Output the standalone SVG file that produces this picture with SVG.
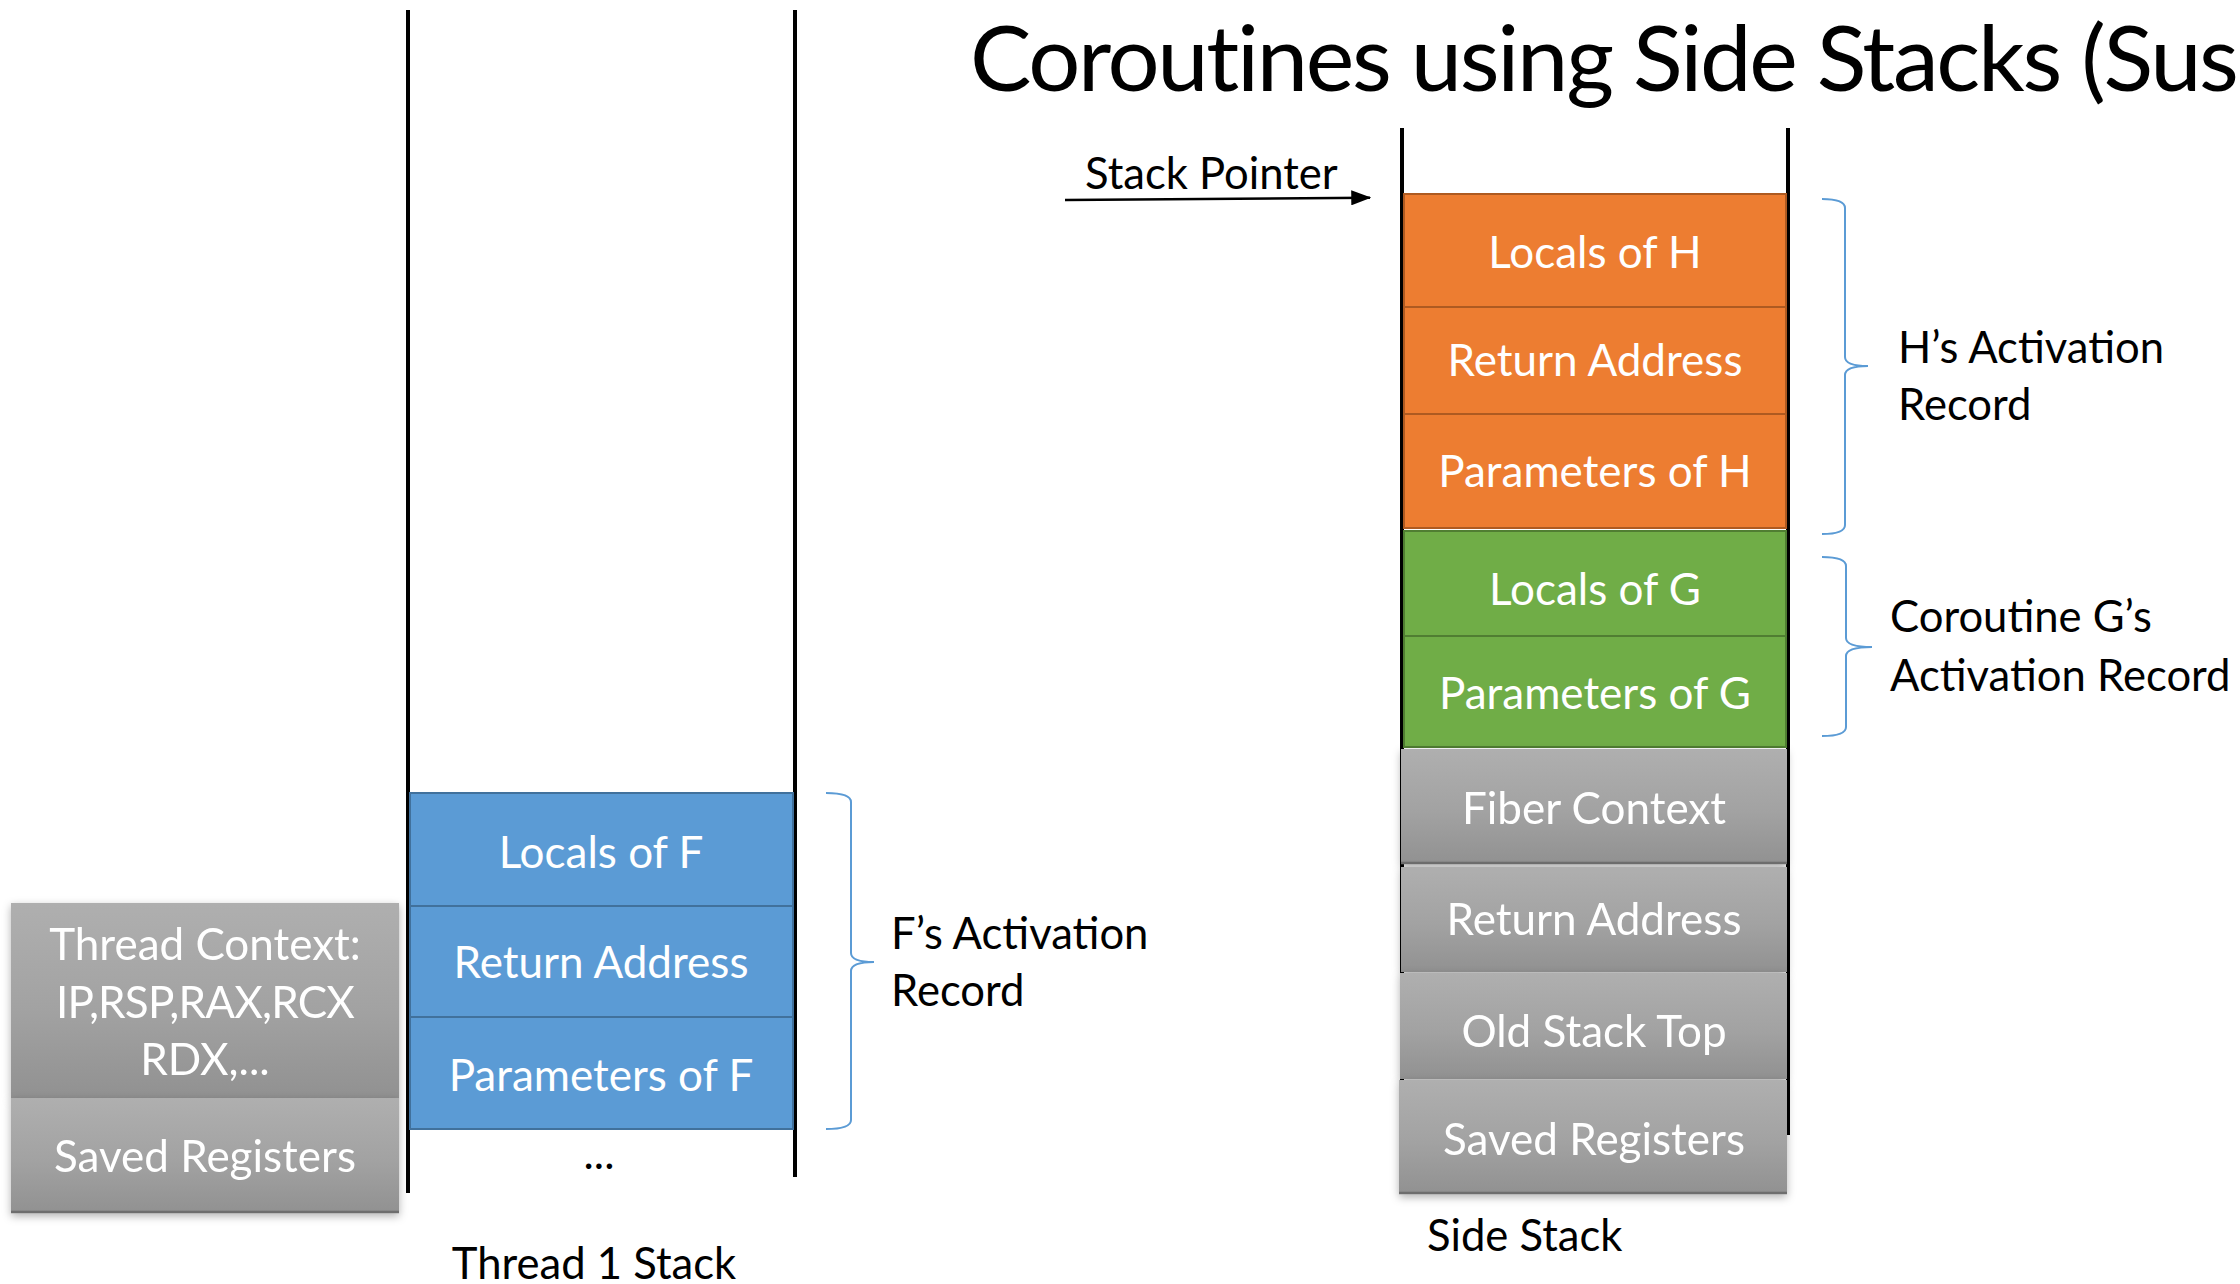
<svg xmlns="http://www.w3.org/2000/svg" width="2240" height="1284" viewBox="0 0 2240 1284">
<style>
.cell-text{font-family:Lato,"Open Sans","DejaVu Sans",sans-serif;font-size:44px;fill:#FFFFFF;text-anchor:middle}
.label{font-family:Lato,"Open Sans","DejaVu Sans",sans-serif;font-size:43.6px;fill:#000000}
.title{font-family:Lato,"Open Sans","DejaVu Sans",sans-serif;font-size:92px;letter-spacing:-2.3px;fill:#000000}
.blue{fill:#5B9BD5;stroke:#41719C;stroke-width:2}
.orange{fill:#ED7D31;stroke:#AE5A21;stroke-width:2}
.green{fill:#70AD47;stroke:#507E32;stroke-width:2}
.gray{fill:url(#grayGrad)}
.grayedge{stroke:#6E6E6E;stroke-width:2.5}
.wall{stroke:#000000;stroke-width:4;fill:none}
.brace{stroke:#5B9BD5;stroke-width:2;fill:none}
</style>
<defs>
<linearGradient id="grayGrad" x1="0" y1="0" x2="0" y2="1">
<stop offset="0" stop-color="#AFAFAF"/>
<stop offset="0.55" stop-color="#A2A2A2"/>
<stop offset="1" stop-color="#919191"/>
</linearGradient>
<filter id="shadow" x="-10%" y="-10%" width="120%" height="130%">
<feDropShadow dx="0" dy="3" stdDeviation="4" flood-color="#000000" flood-opacity="0.3"/>
</filter>
<marker id="arrow" markerWidth="8" markerHeight="6" refX="7.5" refY="3" orient="auto" markerUnits="strokeWidth">
<path d="M0,0 L8,3 L0,6 Z" fill="#000000"/>
</marker>
</defs>
<rect x="0" y="0" width="2240" height="1284" fill="#FFFFFF"/>

<g id="title">
<text class="title" x="970" y="91">Coroutines using Side Stacks (Sus</text>
</g>

<g id="thread-stack-walls">
<line class="wall" x1="408" y1="10" x2="408" y2="1193"/>
<line class="wall" x1="795" y1="10" x2="795" y2="1177"/>
</g>

<g id="locals-f"><rect class="blue" x="410" y="793" width="383" height="113"/><text class="cell-text" x="601" y="868">Locals of F</text></g>
<g id="return-f"><rect class="blue" x="410" y="906" width="383" height="111"/><text class="cell-text" x="601" y="978">Return Address</text></g>
<g id="params-f"><rect class="blue" x="410" y="1017" width="383" height="112"/><text class="cell-text" x="601" y="1091">Parameters of F</text></g>
<g id="ellipsis"><text class="label" x="599" y="1169" text-anchor="middle">...</text></g>
<g id="thread-stack-label"><text class="label" x="594" y="1279" text-anchor="middle">Thread 1 Stack</text></g>

<g id="thread-context" filter="url(#shadow)">
<rect class="gray" x="11" y="903" width="388" height="195"/>
<text class="cell-text" x="205" y="960">Thread Context:</text>
<text class="cell-text" x="205" y="1018" letter-spacing="-0.8">IP,RSP,RAX,RCX</text>
<text class="cell-text" x="205" y="1075">RDX,...</text>
</g>
<g id="saved-registers-thread" filter="url(#shadow)">
<rect class="gray" x="11" y="1098" width="388" height="115"/>
<line class="grayedge" x1="11" y1="1212" x2="399" y2="1212"/>
<text class="cell-text" x="205" y="1172">Saved Registers</text>
</g>

<g id="f-brace-label">
<path class="brace" d="M826,793 Q851,793 851,802 L851,953 Q851,962 874,962 Q851,962 851,971 L851,1120 Q851,1129 826,1129"/>
<text class="label" x="891" y="949">F’s Activation</text>
<text class="label" x="891" y="1006">Record</text>
</g>

<g id="stack-pointer">
<text class="label" x="1085" y="189" font-size="42.7">Stack Pointer</text>
</g>

<g id="side-stack-walls">
<line class="wall" x1="1402" y1="128" x2="1402" y2="1150"/>
<line class="wall" x1="1788" y1="128" x2="1788" y2="1135"/>
</g>

<g id="locals-h"><rect class="orange" x="1404" y="194" width="382" height="113"/><text class="cell-text" x="1595" y="268">Locals of H</text></g>
<g id="return-h"><rect class="orange" x="1404" y="307" width="382" height="107"/><text class="cell-text" x="1595" y="376">Return Address</text></g>
<g id="params-h"><rect class="orange" x="1404" y="414" width="382" height="114"/><text class="cell-text" x="1595" y="487">Parameters of H</text></g>
<g id="locals-g"><rect class="green" x="1404" y="531" width="382" height="105"/><text class="cell-text" x="1595" y="605">Locals of G</text></g>
<g id="params-g"><rect class="green" x="1404" y="636" width="382" height="111"/><text class="cell-text" x="1595" y="709">Parameters of G</text></g>

<g id="fiber-context" filter="url(#shadow)">
<rect class="gray" x="1401" y="749" width="386" height="115"/>
<line class="grayedge" x1="1401" y1="863" x2="1787" y2="863"/>
<text class="cell-text" x="1594" y="824">Fiber Context</text>
</g>
<g id="return-side" filter="url(#shadow)">
<rect class="gray" x="1401" y="867" width="386" height="105"/>
<text class="cell-text" x="1594" y="935">Return Address</text>
</g>
<g id="old-stack-top" filter="url(#shadow)">
<rect class="gray" x="1400" y="973" width="387" height="106"/>
<text class="cell-text" x="1594" y="1047">Old Stack Top</text>
</g>
<g id="saved-registers-side" filter="url(#shadow)">
<rect class="gray" x="1399" y="1080" width="388" height="114"/>
<line class="grayedge" x1="1399" y1="1193" x2="1787" y2="1193"/>
<text class="cell-text" x="1594" y="1155">Saved Registers</text>
</g>
<g id="side-stack-label"><text class="label" x="1427" y="1251">Side Stack</text></g>

<g id="h-brace-label">
<path class="brace" d="M1822,199 Q1845,199 1845,208 L1845,357 Q1845,366 1868,366 Q1845,366 1845,375 L1845,525 Q1845,534 1822,534"/>
<text class="label" x="1898" y="363">H’s Activation</text>
<text class="label" x="1898" y="420">Record</text>
</g>
<g id="g-brace-label">
<path class="brace" d="M1822,557 Q1846,557 1846,566 L1846,638 Q1846,647 1872,647 Q1846,647 1846,656 L1846,727 Q1846,736 1822,736"/>
<text class="label" x="1890" y="632">Coroutine G’s</text>
<text class="label" x="1890" y="691">Activation Record</text>
</g>

<g id="connectors">
<line x1="1065" y1="200" x2="1370" y2="197.7" stroke="#000000" stroke-width="2.5" marker-end="url(#arrow)"/>
</g>
</svg>
